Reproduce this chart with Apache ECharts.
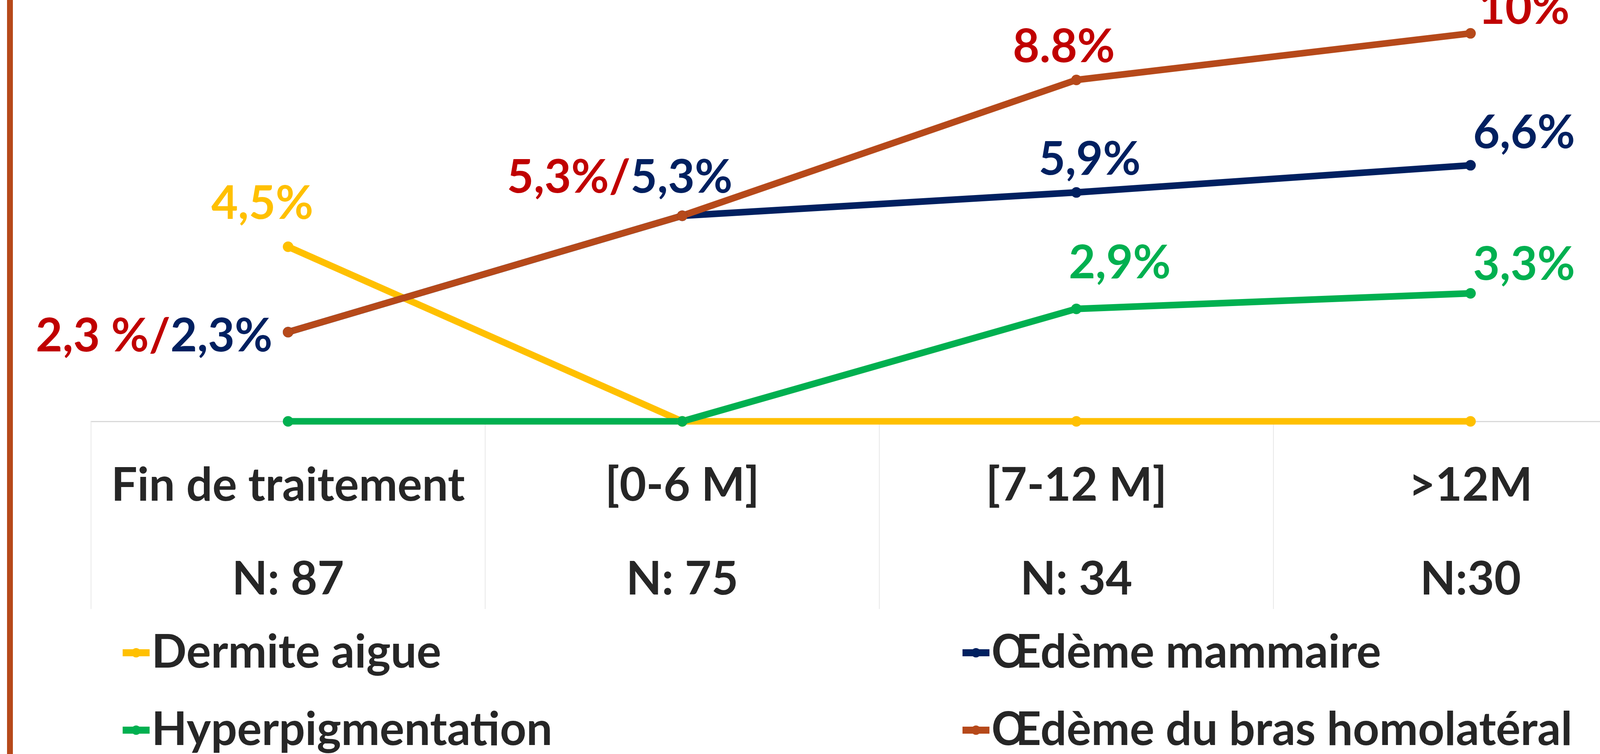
<!DOCTYPE html>
<html>
<head>
<meta charset="utf-8">
<script src="https://cdn.jsdelivr.net/npm/echarts@6/dist/echarts.min.js"></script>
<style>
html,body{margin:0;padding:0;background:#fff;overflow:hidden;}
#chart{width:4152px;height:1929px;}
</style>
</head>
<body>
<div id="chart"></div>
<script>
// ---- data ----
const categories = ['Fin de traitement', '[0-6 M]', '[7-12 M]', '>12M'];
const sampleSizes = ['N: 87', 'N: 75', 'N: 34', 'N:30'];

const seriesNames = ['Dermite aigue', 'Œdème mammaire', 'Hyperpigmentation', 'Œdème du bras homolatéral'];
const dermite = [4.5, 0, 0, 0];
const oedemeMammaire = [2.3, 5.3, 5.9, 6.6];
const hyperpigmentation = [0, 0, 2.9, 3.3];
const oedemeBras = [2.3, 5.3, 8.8, 10];

const dermiteLabels = ['4,5%', '', '', ''];
const mammaireLabels = ['2,3%', '5,3%', '5,9%', '6,6%'];
const hyperLabels = ['', '', '2,9%', '3,3%'];
const brasLabels = ['2,3 %', '5,3%', '8.8%', '10%'];

// ---- styles ----
const FONT = 'Lato';
const FS = 118;
const C_YELLOW = '#FFC000', C_NAVY = '#002060', C_GREEN = '#00B050', C_ORANGE = '#B6491A';
const C_RED = '#C00000', C_TEXT = '#262626';

// label placement (center offset from point, px)
const offDermite = [[-66, -109], null, null, null];
const offMammaire = [null, null, [34, -83], [137, -82]];
const offHyper = [null, null, [111, -116], [137, -72]];
const offBras = [[-40, 11], [-160, -97], [-32, -84], [137, -62]];

const shared = oedemeBras.map((v, i) => v === oedemeMammaire[i]);

function buildData(values, texts, offsets, color, opts) {
  return values.map((v, i) => {
    const off = offsets[i];
    const txt = texts[i];
    const hide = !off || !txt || (opts.skipShared && shared[i]);
    if (hide) return { value: v, label: { show: false } };
    const lab = {
      show: true, position: 'inside', offset: off,
      fontFamily: FONT, fontWeight: 'bold', fontSize: FS, color: color,
      formatter: txt
    };
    if (opts.combine && shared[i]) {
      lab.formatter = '{r|' + txt + '/}{b|' + mammaireLabels[i] + '}';
      lab.rich = {
        r: { fontFamily: FONT, fontWeight: 'bold', fontSize: FS, color: C_RED },
        b: { fontFamily: FONT, fontWeight: 'bold', fontSize: FS, color: C_NAVY }
      };
      if (i === 0) lab.align = 'right';
    }
    return { value: v, label: lab };
  });
}

function lineSeries(name, values, color, data) {
  return {
    name: name, type: 'line', data: data,
    symbol: 'circle', symbolSize: 27,
    lineStyle: { color: color, width: 17 },
    itemStyle: { color: color },
    emphasis: { disabled: true },
    animation: false
  };
}

const chart = echarts.init(document.getElementById('chart'), null, { renderer: 'canvas', width: 4152, height: 1929 });

function legendAt(name, left, top) {
  return {
    orient: 'horizontal', left: left, top: top, padding: 0,
    itemWidth: 69, itemHeight: 30, itemGap: 0,
    lineStyle: { width: 18 },
    textStyle: { fontFamily: FONT, fontWeight: 'bold', fontSize: FS, color: C_TEXT, lineHeight: 130 },
    selectedMode: false,
    data: [name]
  };
}

chart.setOption({
  backgroundColor: '#fff',
  animation: false,
  grid: { left: 233, top: 0, width: 4036, bottom: 851, containLabel: false, outerBoundsMode: 'none' },
  xAxis: {
    type: 'category', data: categories, boundaryGap: true,
    axisLine: { show: true, lineStyle: { color: '#D9D9D9', width: 3 } },
    axisTick: { show: true, length: 480, lineStyle: { color: '#E8E8E8', width: 2 } },
    axisLabel: {
      margin: 45, interval: 0,
      fontFamily: FONT, fontWeight: 'bold', fontSize: FS, color: C_TEXT, lineHeight: 240,
      formatter: (v, i) => v + '\n' + sampleSizes[i]
    },
    splitLine: { show: false }
  },
  yAxis: {
    type: 'value', min: 0, max: 10.86, show: false,
    splitLine: { show: false }
  },
  legend: [
    legendAt(seriesNames[0], 305, 1605),
    legendAt(seriesNames[1], 2455, 1605),
    legendAt(seriesNames[2], 305, 1803),
    legendAt(seriesNames[3], 2455, 1803)
  ],
  series: [
    lineSeries(seriesNames[0], dermite, C_YELLOW, buildData(dermite, dermiteLabels, offDermite, C_YELLOW, {})),
    lineSeries(seriesNames[1], oedemeMammaire, C_NAVY, buildData(oedemeMammaire, mammaireLabels, offMammaire, C_NAVY, { skipShared: true })),
    lineSeries(seriesNames[2], hyperpigmentation, C_GREEN, buildData(hyperpigmentation, hyperLabels, offHyper, C_GREEN, {})),
    lineSeries(seriesNames[3], oedemeBras, C_ORANGE, buildData(oedemeBras, brasLabels, offBras, C_RED, { combine: true }))
  ],
  graphic: [
    { type: 'rect', left: 18, top: 0, shape: { width: 15, height: 1929 }, style: { fill: C_ORANGE }, silent: true }
  ]
});
</script>
</body>
</html>
